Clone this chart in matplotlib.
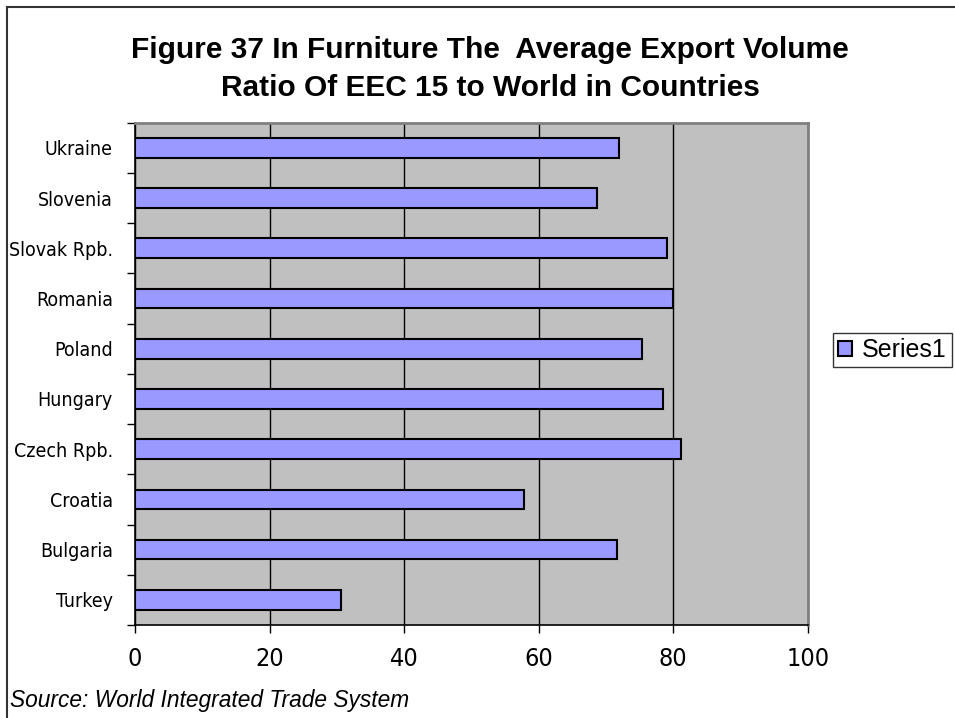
import matplotlib.pyplot as plt
from matplotlib.patches import Rectangle
from matplotlib import font_manager

countries = ["Turkey", "Bulgaria", "Croatia", "Czech Rpb.", "Hungary",
             "Poland", "Romania", "Slovak Rpb.", "Slovenia", "Ukraine"]
ratios = [30.6, 71.7, 57.8, 81.2, 78.5, 75.3, 80.0, 79.1, 68.7, 72.0]
x_ticks = [0, 20, 40, 60, 80, 100]

names = sorted({(f.name, f.stretch) for f in font_manager.fontManager.ttflist})
print([n for n in names if "Narrow" in n[0] or "ondens" in str(n[1]) or "Condensed" in n[0]])

narrow = font_manager.FontProperties(family="DejaVu Sans", stretch="condensed")

fig = plt.figure(figsize=(9.55, 7.18), dpi=100)
ax = fig.add_axes([135 / 955, 1 - 625 / 718, 672.7 / 955, 502.3 / 718])
ax.set_facecolor("#C0C0C0")

ypos = list(range(len(countries)))
ax.barh(ypos, ratios, height=0.39, color="#9999FF", edgecolor="black",
        linewidth=1.5, zorder=3, label="Series1")

ax.set_xlim(0, 100)
ax.set_ylim(-0.5, len(countries) - 0.5)

ax.set_xticks(x_ticks)
ax.set_xticklabels([str(v) for v in x_ticks], fontproperties=narrow, fontsize=18)
ax.tick_params(axis="x", direction="out", length=6, width=1, pad=10)
ax.xaxis.grid(True, color="black", linewidth=1, zorder=1)

# category ticks sit between bars, labels at bar centres
ax.set_yticks([i - 0.5 for i in range(len(countries) + 1)])
ax.set_yticklabels([])
ax.set_yticks(ypos, minor=True)
ax.set_yticklabels(countries, minor=True, fontproperties=narrow, fontsize=14)
ax.tick_params(axis="y", which="major", direction="out", length=6, width=1)
ax.tick_params(axis="y", which="minor", length=0, pad=16)

for side in ["top", "right"]:
    ax.spines[side].set_color("#808080")
    ax.spines[side].set_linewidth(2)
ax.spines["left"].set_linewidth(1.2)
ax.spines["bottom"].set_linewidth(1.2)

fig.text(490 / 955, 1 - 69 / 718,
         "Figure 37 In Furniture The  Average Export Volume\nRatio Of EEC 15 to World in Countries",
         ha="center", va="center", fontsize=21.5, fontweight="bold",
         family=["Liberation Sans", "DejaVu Sans"], linespacing=1.45)

fig.text(10 / 955, 1 - 700 / 718, "Source: World Integrated Trade System",
         ha="left", va="center", fontsize=16.4, style="italic",
         family=["Liberation Sans", "DejaVu Sans"])

leg = fig.legend(loc="center left", bbox_to_anchor=(833 / 955, 1 - 350 / 718),
                 frameon=True, fancybox=False, edgecolor="black",
                 prop={"family": "Liberation Sans", "size": 18},
                 handlelength=0.55, handleheight=0.55, handletextpad=0.4,
                 borderpad=0.2, borderaxespad=0)
leg.get_frame().set_linewidth(1)

fig.patches.append(Rectangle((7 / 955, -0.05), 1.0, 1 - 7 / 718 + 0.05,
                             transform=fig.transFigure, fill=False,
                             edgecolor="#333333", linewidth=1.5))

plt.savefig("out.png", dpi=100)
